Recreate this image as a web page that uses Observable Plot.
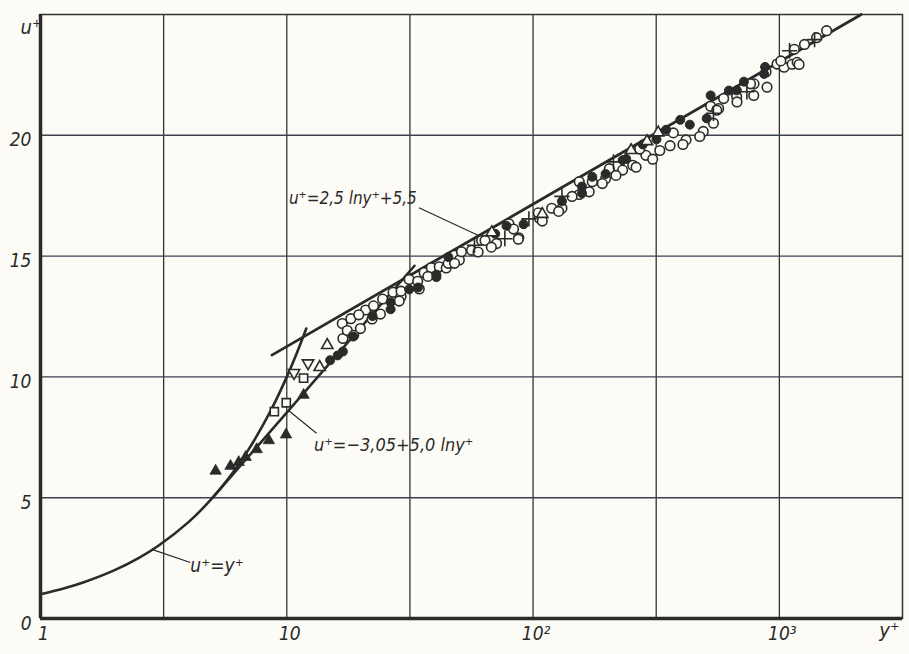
<!DOCTYPE html>
<html>
<head>
<meta charset="utf-8">
<script src="https://cdn.jsdelivr.net/npm/d3@7"></script>
<script src="https://cdn.jsdelivr.net/npm/@observablehq/plot@0.6"></script>
<style>
  html, body { margin: 0; padding: 0; background: #fcfbf5; }
</style>
</head>
<body>
<div id="chart"></div>
<script>
// ---------- axes ----------
const xTicks = [1, 10, 100, 1000];
const xTickLabels = ["1", "10", "10²", "10³"];
const yTicks = [0, 5, 10, 15, 20];
const xGrid = [3.162, 10, 31.62, 100, 316.2, 1000];
const yGrid = [5, 10, 15, 20];
const xTitle = "y⁺";
const yTitle = "u⁺";

// ---------- curves ----------
const viscousY = [1, 1.25, 1.5, 2, 2.5, 3, 4, 5, 6, 7, 8, 9, 10, 11, 12];
const viscousU = [1, 1.25, 1.5, 2, 2.5, 3, 4, 5, 6, 7, 8, 9, 10, 11, 12];
const bufferY = [5, 33];
const bufferU = [5.0, 14.6];
const logLawY = [8.7, 2150];
const logLawU = [10.9, 25.0];

// ---------- annotations ----------
const annoText = ["u⁺=2,5 lny⁺+5,5", "u⁺=−3,05+5,0 lny⁺", "u⁺=y⁺"];
const annoX = [10.2, 12.9, 4.06];
const annoU = [17.4, 7.18, 2.16];
const annoSize = [17, 18, 19];
const leaderX1 = [34.4, 13.2, 4.06];
const leaderU1 = [17.0, 7.67, 2.32];
const leaderX2 = [60, 10.2, 2.85];
const leaderU2 = [15.85, 8.6, 2.85];

// ---------- measured points ----------
const filledTriY = [5.14, 5.91, 6.38, 6.81, 7.55, 8.46, 9.93, 11.7];
const filledTriU = [6.11, 6.31, 6.47, 6.68, 7.00, 7.37, 7.61, 9.25];

const squareY = [8.90, 9.95, 11.7];
const squareU = [8.56, 8.93, 9.95];

const invTriY = [10.7, 12.2];
const invTriU = [10.17, 10.57];

const openTriY = [13.6, 14.6, 68, 109, 250, 322, 290];
const openTriU = [10.40, 11.31, 15.98, 16.74, 19.38, 20.11, 19.75];

const openCircY = [16.8, 18.2, 16.9, 17.6, 20.9, 22.5, 24.5, 27.0, 29.1, 31.4, 36.1, 38.6, 41.6, 44.4, 48.0, 50.2, 56.3, 61.8, 71.1, 79.8, 87.5, 106, 119, 131, 154, 169, 174, 197, 231, 254, 287, 327, 360, 418, 491, 540, 526, 567, 671, 789, 883, 979, 1045, 1127, 1181, 1150, 1265, 1416, 1556,
  19.6, 29.1, 34.0, 45.2, 18.7, 19.9, 22.2, 24.0, 28.6, 34.5, 37.4, 51.2, 63.8, 83.3, 105, 144, 48.0, 59.8, 67.7, 87.1, 109, 127, 154, 204, 271, 371, 191, 217, 262, 306, 406, 475, 594, 764, 1014, 557, 673, 787, 891, 1202];
const openCircU = [12.21, 12.41, 11.59, 11.92, 12.77, 12.94, 13.22, 13.50, 13.33, 14.03, 14.32, 14.52, 14.56, 14.51, 15.04, 14.84, 15.24, 15.65, 15.52, 16.34, 15.76, 16.57, 16.98, 16.98, 17.55, 17.66, 18.08, 18.20, 18.56, 18.76, 19.17, 19.37, 19.57, 19.81, 20.16, 20.5, 21.2, 21.11, 21.6, 22.13, 22.62, 22.95, 22.82, 22.94, 23.02, 23.56, 23.76, 24.04, 24.33,
  12.57, 13.55, 13.96, 14.70, 11.72, 12.0, 12.4, 12.6, 13.14, 13.64, 14.16, 15.18, 15.65, 16.12, 16.79, 17.47, 14.70, 15.17, 15.37, 15.70, 16.45, 16.85, 18.08, 18.62, 19.43, 20.1, 18.0, 18.34, 18.68, 19.01, 19.62, 19.95, 21.52, 22.13, 23.08, 21.04, 21.38, 21.65, 21.99, 22.93];

const filledCircY = [15.0, 16.1, 16.9, 18.6, 22.3, 26.4, 34.1, 40.5, 45.3, 78, 131, 158, 197, 231, 279, 347, 396, 526, 624, 718, 875,
  26.4, 31.4, 40.5, 70.2, 91.5, 158, 174, 239, 317, 433, 507, 672, 867];
const filledCircU = [10.69, 10.89, 11.05, 11.67, 12.52, 13.09, 13.70, 14.23, 14.96, 16.25, 17.27, 17.88, 18.40, 18.97, 19.62, 20.23, 20.64, 21.65, 21.85, 22.22, 22.83,
  12.8, 13.62, 14.13, 15.92, 16.32, 17.6, 18.28, 19.02, 19.83, 20.44, 20.70, 21.86, 22.54];

const crossY = [57.8, 76.8, 96.2, 131, 540, 738, 1390, 212, 1100];
const crossU = [15.45, 15.72, 16.54, 17.47, 20.91, 21.80, 23.96, 18.9, 23.5];

// ---------- helpers ----------
const pts = (xs, ys) => xs.map((x, i) => ({x, y: ys[i]}));
const paper = "#fcfbf5";
const ink = "#2a2a2a";
const font = "'DejaVu Sans Condensed', 'DejaVu Sans', sans-serif";
const tickLabelMap = new Map(xTicks.map((t, i) => [t, xTickLabels[i]]));

const annos = annoText.map((t, i) => ({t, x: annoX[i], y: annoU[i], s: annoSize[i]}));
const leaders = leaderX1.map((x1, i) => ({x1, y1: leaderU1[i], x2: leaderX2[i], y2: leaderU2[i]}));

const chart = Plot.plot({
  width: 909,
  height: 654,
  marginLeft: 40,
  marginRight: 7,
  marginTop: 14,
  marginBottom: 36,
  x: {type: "log", domain: [1, 3162.3]},
  y: {domain: [0, 25]},
  style: {background: paper, fontFamily: font, color: ink},
  marks: [
    Plot.gridX({ticks: xGrid, stroke: "#333", strokeOpacity: 1, strokeWidth: 1.3}),
    Plot.gridY({ticks: yGrid, stroke: "#3b4052", strokeOpacity: 1, strokeWidth: 1.4}),
    Plot.frame({stroke: "#333", strokeWidth: 1.5}),
    Plot.ruleX([1], {stroke: ink, strokeWidth: 3.5}),
    Plot.ruleY([0], {stroke: ink, strokeWidth: 3.5}),
    Plot.axisX({ticks: xTicks, tickFormat: d => tickLabelMap.get(d), tickSize: 0, tickPadding: 8, dx: 3,
      fontSize: 19, fontStyle: "italic", label: null, fill: ink}),
    Plot.axisY({ticks: yTicks, tickSize: 0, tickPadding: 9, dy: 5,
      fontSize: 19, fontStyle: "italic", label: null, fill: ink}),
    Plot.text([yTitle], {frameAnchor: "top-left", dx: -20, dy: 5, fontSize: 20, fontStyle: "italic", fill: ink}),
    Plot.text([xTitle], {frameAnchor: "bottom-right", dx: -3, dy: 18, fontSize: 20, fontStyle: "italic", fill: ink}),

    // theory curves
    Plot.line(pts(viscousY, viscousU), {x: "x", y: "y", curve: "catmull-rom", stroke: ink, strokeWidth: 2.6}),
    Plot.line(pts(bufferY, bufferU), {x: "x", y: "y", stroke: ink, strokeWidth: 2.6}),
    Plot.line(pts(logLawY, logLawU), {x: "x", y: "y", stroke: ink, strokeWidth: 2.8}),

    // leaders and labels
    Plot.link(leaders, {x1: "x1", y1: "y1", x2: "x2", y2: "y2", stroke: ink, strokeWidth: 1.2}),
    Plot.text(annos, {x: "x", y: "y", text: "t", fontSize: "s", textAnchor: "start", fontStyle: "italic", fill: ink}),

    // data
    Plot.dot(pts(openCircY, openCircU), {x: "x", y: "y", r: 4.8, symbol: "circle", fill: paper, stroke: ink, strokeWidth: 1.6}),
    Plot.dot(pts(filledCircY, filledCircU), {x: "x", y: "y", r: 4.5, symbol: "circle", fill: ink, stroke: ink, strokeWidth: 1}),
    Plot.dot(pts(crossY, crossU), {x: "x", y: "y", r: 5, symbol: "plus", stroke: ink, strokeWidth: 1.6}),
    Plot.dot(pts(openTriY, openTriU), {x: "x", y: "y", r: 4.2, symbol: "triangle", fill: paper, stroke: ink, strokeWidth: 1.6}),
    Plot.dot(pts(invTriY, invTriU), {x: "x", y: "y", r: 4.2, symbol: "triangle", rotate: 180, fill: paper, stroke: ink, strokeWidth: 1.6}),
    Plot.dot(pts(squareY, squareU), {x: "x", y: "y", r: 4.6, symbol: "square", fill: paper, stroke: ink, strokeWidth: 1.6}),
    Plot.dot(pts(filledTriY, filledTriU), {x: "x", y: "y", r: 4.2, symbol: "triangle", fill: ink, stroke: ink, strokeWidth: 0.8})
  ]
});
document.getElementById("chart").appendChild(chart);
</script>
</body>
</html>
